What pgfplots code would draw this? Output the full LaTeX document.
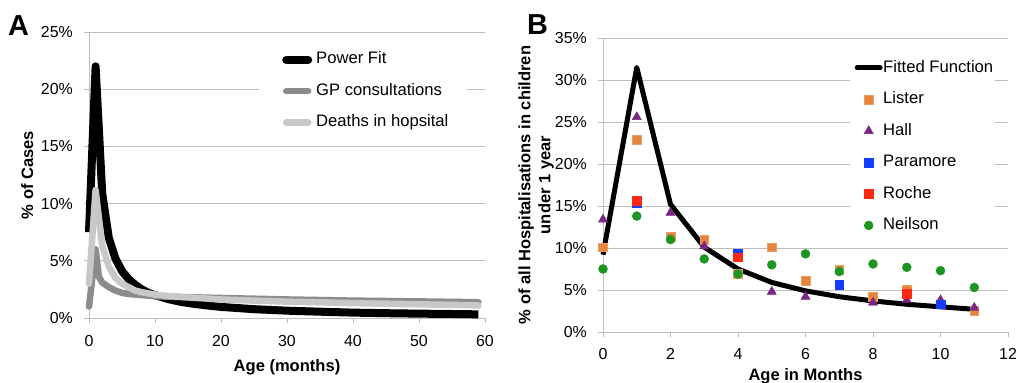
\documentclass[border=0pt]{standalone}
\usepackage{fontspec}
\setmainfont{Liberation Sans}
\usepackage{pgfplots}
\pgfplotsset{compat=1.18}
\definecolor{gridgray}{RGB}{190,190,190}
\definecolor{gpgray}{RGB}{140,140,140}
\definecolor{dthgray}{RGB}{200,200,200}
\definecolor{listerc}{RGB}{230,132,62}
\definecolor{hallc}{RGB}{122,38,132}
\definecolor{paramc}{RGB}{18,60,255}
\definecolor{rochec}{RGB}{252,42,18}
\definecolor{neilc}{RGB}{28,150,32}
\pgfplotsset{
  common/.style={
    scale only axis, anchor=south west, clip=false,
    axis lines=left, axis line style={gridgray,-,line width=0.9bp},
    ymajorgrids, grid style={gridgray,line width=0.9bp},
    tick align=outside, major tick length=5bp,
    tick style={gridgray,line width=0.9bp},
    ticklabel style={font=\fontsize{16}{19}\selectfont, text=black},
    yticklabel style={inner sep=0pt, xshift=-11bp},
    xticklabel style={inner sep=0pt, yshift=-12bp},
    label style={font=\bfseries\fontsize{16.6}{20}\selectfont},
    legend cell align=left,
    legend style={draw=none, fill=white, anchor=north west,
      font=\fontsize{16.7}{19}\selectfont, row sep=16bp,
      nodes={inner sep=0pt, text height=12bp, text depth=3.5bp}},
  },
  fitleg/.style={legend image code/.code={\path (0bp,0bp) (26bp,0bp); \draw[##1,line cap=round] (2.5bp,0bp) -- (25.5bp,0bp);}},
}
\begin{document}
\begin{tikzpicture}
\useasboundingbox (0bp,0bp) rectangle (1018bp,383bp);
\node[anchor=base west, inner sep=0pt, font=\bfseries\fontsize{29}{30}\selectfont] at (8bp,347.3bp) {A};
\node[anchor=base west, inner sep=0pt, font=\bfseries\fontsize{29}{30}\selectfont] at (527bp,348bp) {B};
% Panel A
\begin{axis}[common,
  at={(89bp,65bp)}, width=396bp, height=286bp,
  xmin=0, xmax=60, ymin=0, ymax=25,
  xtick={0,10,20,30,40,50,60}, xticklabels={0,10,20,30,40,50,60},
  ytick={0,5,10,15,20,25}, yticklabels={0\%,5\%,10\%,15\%,20\%,25\%},
  xlabel={Age (months)}, ylabel={\% of Cases},
  xlabel style={at={(axis description cs:0.5,0)}, anchor=base, yshift=-53bp},
  ylabel style={at={(axis description cs:-0.1414,0.5)}, anchor=base},
  legend style={at={(0.4293,0.959)}, inner xsep=19bp, inner ysep=8bp},
  legend image code/.code={\path (0bp,0bp) (30bp,0bp); \draw[#1,line cap=round] (4bp,0bp) -- (26bp,0bp);},
]
\addplot[black, line width=8bp, line join=round] coordinates {
(0,7.5) (1,22.0) (2,10.9) (3,7.0) (4,5.2) (5,4.1) (6,3.4) (7,2.9) (8,2.5) (9,2.2) (10,2.0)
(12,1.65) (14,1.4) (16,1.23) (18,1.09) (20,0.97) (25,0.77) (30,0.64) (35,0.55) (40,0.47)
(45,0.42) (50,0.38) (55,0.35) (59,0.32)};
\addlegendentry{Power Fit}
\addplot[gpgray, line width=6.5bp, line join=round, line cap=round] coordinates {
(0,1.0) (1,6.0) (1.5,3.6) (2,3.1) (3,2.7) (4,2.4) (5,2.2) (6,2.1) (8,2.0) (10,1.9) (15,1.82)
(20,1.75) (30,1.62) (40,1.52) (50,1.45) (59,1.38)};
\addlegendentry{GP consultations}
\addplot[dthgray, line width=6.5bp, line join=round, line cap=round] coordinates {
(0,3.0) (1,11.2) (2,6.3) (3,4.5) (4,3.5) (5,3.0) (6,2.7) (7,2.4) (8,2.25) (10,2.05) (12,1.92)
(15,1.8) (20,1.62) (25,1.52) (30,1.43) (35,1.37) (40,1.3) (45,1.25) (50,1.2) (55,1.15) (59,1.1)};
\addlegendentry{Deaths in hopsital}
\end{axis}
% Panel B
\begin{axis}[common,
  at={(603bp,51bp)}, width=405bp, height=294bp,
  xmin=0, xmax=12, ymin=0, ymax=35,
  xtick={0,2,4,6,8,10,12}, xticklabels={0,2,4,6,8,10,12},
  ytick={0,5,10,15,20,25,30,35}, yticklabels={0\%,5\%,10\%,15\%,20\%,25\%,30\%,35\%},
  xticklabel style={yshift=1bp},
  xlabel={Age in Months},
  ylabel={\% of all Hospitalisations in children\\under 1 year},
  xlabel style={at={(axis description cs:0.5,0)}, anchor=base, yshift=-48bp},
  ylabel style={at={(axis description cs:-0.1654,0.5)}, anchor=center, align=center},
  legend style={at={(0.6099,0.9456)}, inner xsep=2bp, inner ysep=6bp},
  legend image code/.code={\path (0bp,0bp) (26bp,0bp); \draw[#1] plot coordinates {(14bp,0bp)};},
]
\addplot[black, line width=5bp, line join=round, fitleg]
 coordinates {(0,9.2) (1,31.5) (2,15.2) (3,10.1) (4,7.5) (5,5.9) (6,4.9) (7,4.2) (8,3.7) (9,3.3) (10,3.0) (11,2.7)};
\addlegendentry{Fitted Function}
\addplot[only marks, mark=square*, mark size=4.4bp, mark options={fill=listerc, draw=listerc!80!white}]
 coordinates {(0,10.1) (1,22.9) (2,11.3) (3,11.0) (4,6.9) (5,10.1) (6,6.1) (7,7.4) (8,4.2) (9,5.0) (11,2.5)};
\addlegendentry{Lister}
\addplot[only marks, mark=triangle*, mark size=5.3bp, mark options={fill=hallc, draw=hallc}]
 coordinates {(0,13.4) (1,25.6) (2,14.2) (3,10.2) (5,4.8) (6,4.2) (8,3.5) (9,3.8) (10,3.8) (11,2.9)};
\addlegendentry{Hall}
\addplot[only marks, mark=square*, mark size=4.4bp, mark options={fill=paramc, draw=paramc}]
 coordinates {(1,15.4) (4,9.3) (7,5.6) (10,3.3)};
\addlegendentry{Paramore}
\addplot[only marks, mark=square*, mark size=4.4bp, mark options={fill=rochec, draw=rochec}]
 coordinates {(1,15.6) (4,8.9) (9,4.6)};
\addlegendentry{Roche}
\addplot[only marks, mark=*, mark size=4.5bp, mark options={fill=neilc, draw=neilc}]
 coordinates {(0,7.5) (1,13.8) (2,11.0) (3,8.7) (4,6.9) (5,8.0) (6,9.3) (7,7.2) (8,8.1) (9,7.7) (10,7.3) (11,5.3)};
\addlegendentry{Neilson}
\end{axis}
\end{tikzpicture}
\end{document}
